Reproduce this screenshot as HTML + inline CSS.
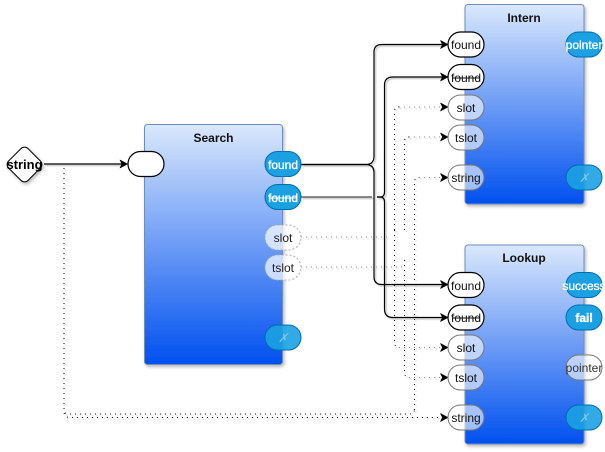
<!DOCTYPE html>
<html>
<head>
<meta charset="utf-8">
<style>
html,body{margin:0;padding:0;background:#fff;width:605px;height:452px;overflow:hidden}
svg{display:block}
text{font-family:"Liberation Sans",Arial,sans-serif;font-size:12px;text-anchor:middle;dominant-baseline:central}
.t{font-weight:bold;fill:#111}
.w{fill:#fff;stroke:#fff;stroke-width:.35}
.d{fill:#222}
.box{fill:url(#g);stroke:#6c8ebf;stroke-width:1;filter:url(#s)}
.pb{fill:#1ba1e2;stroke:#006eaf;stroke-width:1}
.pw{fill:#fff;stroke:#000;stroke-width:1.2}
.pg{fill:#fff;fill-opacity:.6;stroke:#777;stroke-width:1}
.pd{fill:#fff;fill-opacity:.7;stroke:#aaa;stroke-width:1;stroke-dasharray:2 2}
.c{fill:none;stroke:#000;stroke-width:1.2}
.cg{fill:none;stroke:#444;stroke-width:1.3}
.o{fill:none;stroke:#000;stroke-width:1;stroke-dasharray:1 4}
.og{fill:none;stroke:#888;stroke-width:1;stroke-dasharray:1 4}
.ah{fill:#000;stroke:#000;stroke-width:.6;stroke-linejoin:round}
.sh{filter:url(#ls)}
</style>
</head>
<body>
<svg width="605" height="452" viewBox="0 0 605 452" xmlns="http://www.w3.org/2000/svg">
<defs>
<linearGradient id="g" x1="0" y1="0" x2="0" y2="1">
<stop offset="0" stop-color="#dae8fc"/>
<stop offset="1" stop-color="#0050ef"/>
</linearGradient>
<filter id="s" x="-10%" y="-10%" width="125%" height="125%">
<feDropShadow dx="1.500" dy="2" stdDeviation="1.500" flood-color="#000" flood-opacity=".28"/>
</filter>
<filter id="ls" x="0" y="0" width="605" height="452" filterUnits="userSpaceOnUse">
<feDropShadow dx="1.500" dy="1.500" stdDeviation=".6" flood-color="#000" flood-opacity=".25"/>
</filter>
</defs>

<rect class="box" x="144.500" y="124.500" width="138" height="240" rx="3"/>
<rect class="box" x="465" y="4.500" width="119" height="199.500" rx="3"/>
<rect class="box" x="465" y="245" width="119" height="199" rx="3"/>

<!-- solid connectors -->
<g class="sh">
<path class="c" d="M44 164 H122"/>
<path class="c" d="M301 164.500 H366 Q374 164.500 374 156 V52 Q374 44.500 382 44.500 H443"/>
<path class="c" d="M301 164.500 H366 Q374 164.500 374 173 V277 Q374 284.500 382 284.500 H443"/>
<path class="cg" d="M301 197 H372"/>
<path class="c" d="M377 197 H380 Q384.500 197 384.500 192 V85 Q384.500 77 393 77 H443"/>
<path class="c" d="M377 197 H380 Q384.500 197 384.500 202 V309 Q384.500 317.500 393 317.500 H443"/>
</g>

<!-- dotted connectors -->
<g class="sh">
<path class="og" d="M301 237 H390"/>
<path class="og" d="M301 267 H402"/>
<path class="o" d="M394.500 230 V112 Q394.500 107 399 107"/>
<path class="og" d="M399 107 H443"/>
<path class="o" d="M404.500 230 V142 Q404.500 137 409 137"/>
<path class="og" d="M409 137 H443"/>
<path class="o" d="M414.500 410 V182 Q414.500 177.500 419 177.500"/>
<path class="og" d="M419 177.500 H443"/>
<path class="o" d="M394.500 230 V342 Q394.500 347.500 399 347.500"/>
<path class="og" d="M399 347.500 H443"/>
<path class="o" d="M404.500 260 V372 Q404.500 377.500 409 377.500"/>
<path class="og" d="M409 377.500 H443"/>
<path class="o" d="M64 168 V409 Q64 414 69 414 H409 Q414.500 414 414.500 409"/>
<path class="o" d="M64 168 V411 Q64 417.500 70 417.500 H443"/>
</g>

<!-- arrowheads -->
<path class="ah" d="M120 160 L127.500 164 L120 168 L122 164 Z"/>
<path class="ah" d="M440.500 40.500 L448 44.500 L440.500 48.500 L442.500 44.500 Z"/>
<path class="ah" d="M440.500 73 L448 77 L440.500 81 L442.500 77 Z"/>
<path class="ah" d="M440.500 103 L448 107 L440.500 111 L442.500 107 Z"/>
<path class="ah" d="M440.500 133 L448 137 L440.500 141 L442.500 137 Z"/>
<path class="ah" d="M440.500 173.500 L448 177.500 L440.500 181.500 L442.500 177.500 Z"/>
<path class="ah" d="M440.500 280.500 L448 284.500 L440.500 288.500 L442.500 284.500 Z"/>
<path class="ah" d="M440.500 313.500 L448 317.500 L440.500 321.500 L442.500 317.500 Z"/>
<path class="ah" d="M440.500 343.500 L448 347.500 L440.500 351.500 L442.500 347.500 Z"/>
<path class="ah" d="M440.500 373.500 L448 377.500 L440.500 381.500 L442.500 377.500 Z"/>
<path class="ah" d="M440.500 413.500 L448 417.500 L440.500 421.500 L442.500 417.500 Z"/>

<!-- string diamond -->
<g filter="url(#s)">
<rect x="10.750" y="150.750" width="27.500" height="27.500" rx="5" transform="rotate(45 24.500 164.500)" fill="#fff" stroke="#000" stroke-width="1"/>
</g>
<text x="24.500" y="164.500" class="t" style="font-size:13px;fill:#000">string</text>

<!-- titles -->
<text x="213.500" y="138" class="t">Search</text>
<text x="524" y="18" class="t">Intern</text>
<text x="524" y="258" class="t">Lookup</text>

<!-- Search ports -->
<rect class="pw" x="128" y="151.500" width="36" height="25" rx="12.500"/>
<rect class="pb" x="265" y="151.500" width="36" height="25" rx="12.500"/>
<text x="283" y="165" class="w">found</text>
<rect class="pb" x="265" y="184.500" width="36" height="25" rx="12.500"/>
<text x="283" y="198" class="w">found</text>
<path d="M269 198 H297" stroke="#fff" stroke-width="1"/>
<rect class="pd" x="265" y="225" width="36" height="25" rx="12.500"/>
<text x="283" y="238" class="d">slot</text>
<rect class="pd" x="265" y="255" width="36" height="25" rx="12.500"/>
<text x="283" y="268" class="d">tslot</text>
<rect class="pb" x="265" y="325" width="36" height="25" rx="12.500" fill-opacity=".9"/>
<text x="283" y="338" fill="#7fc8ee" style="font-style:italic">✗</text>

<!-- Intern ports -->
<rect class="pw" x="448" y="32" width="36" height="25" rx="12.500"/>
<text x="466" y="45" fill="#111">found</text>
<rect class="pw" x="448" y="64.500" width="36" height="25" rx="12.500"/>
<text x="466" y="78" fill="#111">found</text>
<path d="M452 78 H480" stroke="#111" stroke-width="1"/>
<rect class="pg" x="448" y="95" width="36" height="25" rx="12.500"/>
<text x="466" y="108" fill="#111">slot</text>
<rect class="pg" x="448" y="125" width="36" height="25" rx="12.500"/>
<text x="466" y="138" fill="#111">tslot</text>
<rect class="pg" x="448" y="165" width="36" height="25" rx="12.500"/>
<text x="466" y="178" fill="#111">string</text>
<rect class="pb" x="566" y="32" width="36" height="25" rx="12.500"/>
<text x="584" y="45" class="w">pointer</text>
<rect class="pb" x="566" y="165" width="36" height="25" rx="12.500" fill-opacity=".9"/>
<text x="584" y="178" fill="#7fc8ee" style="font-style:italic">✗</text>

<!-- Lookup ports -->
<rect class="pw" x="448" y="272.500" width="36" height="25" rx="12.500"/>
<text x="466" y="286" fill="#111">found</text>
<rect class="pw" x="448" y="305" width="36" height="25" rx="12.500"/>
<text x="466" y="318" fill="#111">found</text>
<path d="M452 318 H480" stroke="#111" stroke-width="1"/>
<rect class="pg" x="448" y="335" width="36" height="25" rx="12.500"/>
<text x="466" y="348" fill="#111">slot</text>
<rect class="pg" x="448" y="365" width="36" height="25" rx="12.500"/>
<text x="466" y="378" fill="#111">tslot</text>
<rect class="pg" x="448" y="405" width="36" height="25" rx="12.500"/>
<text x="466" y="418" fill="#111">string</text>
<rect class="pb" x="566" y="272.500" width="36" height="25" rx="12.500"/>
<text x="584" y="286" class="w">success</text>
<rect class="pb" x="566" y="305" width="36" height="25" rx="12.500"/>
<text x="584" y="318" class="w" style="font-weight:bold">fail</text>
<rect class="pg" x="566" y="355" width="36" height="25" rx="12.500"/>
<text x="584" y="368" fill="#333">pointer</text>
<rect class="pb" x="566" y="405" width="36" height="25" rx="12.500" fill-opacity=".9"/>
<text x="584" y="418" fill="#7fc8ee" style="font-style:italic">✗</text>
</svg>
</body>
</html>
